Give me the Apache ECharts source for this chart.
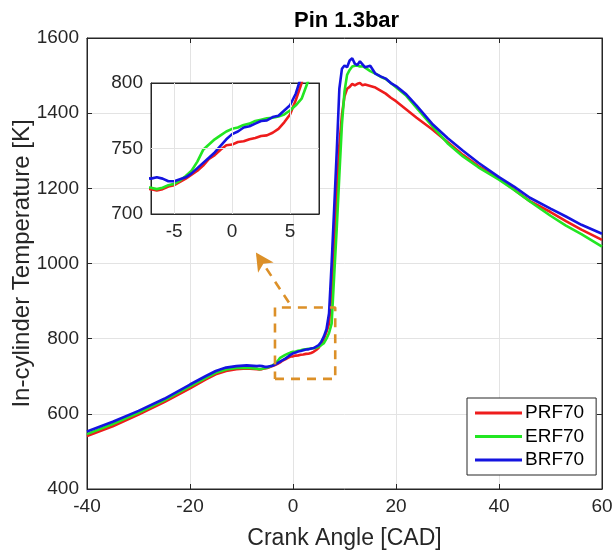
<!DOCTYPE html>
<html><head><meta charset="utf-8">
<script src="https://cdn.jsdelivr.net/npm/echarts@6/dist/echarts.min.js"></script>
<style>html,body{margin:0;padding:0;background:#fff}#c{width:615px;height:551px}</style>
</head><body><div id="c"></div>
<script>
const crankAngle = [-40,-35,-30,-25,-20,-17,-15,-13,-11,-9,-7,-6.5,-6,-5.5,-5,-4.5,-4,-3.5,-3,-2.5,-2,-1.5,-1,-0.5,0,0.5,1,1.5,2,2.5,3,3.5,4,4.5,5,5.5,6,6.5,7,7.5,8,8.5,9,9.5,10,10.5,11,11.5,12,12.5,13,13.5,14,15,16,17,18,19,20,22,24,27,30,33,36,40,43,46,50,53,56,60];
const tBRF70 = [553,579,608,640,678,700,714,723,727,729,727,728,727,725,725,726.5,728,731,735,739,743,747,752,757,761,763,766,767,769,771,771.5,774,775,779,783,792,806,825,868,1000,1148,1300,1465,1518,1527,1522,1540,1546,1532,1528,1538,1530,1522,1526,1505,1498,1492,1480,1472,1450,1420,1372,1334,1300,1268,1230,1204,1175,1146,1125,1103,1079];
const tERF70 = [546,573,603,636,673,695,709,718,722,723,720,719,720,722,723,725.5,729,733,740,749,753,757,760,763,765,766,768,769,771,772,773,773.5,774.5,776,779,783,788,800,815,840,969,1095,1235,1370,1458,1502,1515,1524,1526,1527,1524,1525,1521,1512,1505,1497,1491,1480,1469,1446,1414,1366,1320,1285,1256,1223,1195,1165,1127,1101,1078,1045];
const tPRF70 = [541,567,598,631,668,691,705,714,719,721,719,718,719,721,722,724.5,727,730,733,737,742,745,749,752.5,753,755,755.5,757,758,759.5,760,762,765,770,776,787,800,818,840,930,1058,1190,1315,1395,1445,1465,1470,1478,1474,1478,1480,1474,1476,1472,1468,1460,1452,1441,1432,1410,1388,1357,1323,1289,1259,1228,1196,1166,1137,1113,1090,1063];
const seriesNames = ['PRF70','ERF70','BRF70'];
const seriesColors = ['#ee1c1c','#22e622','#1414e0'];
const insetXTicks = [-5,0,5];
const insetYGrid = [750];
const zoomBoxX = [-3.5, 8.2];
const zoomBoxT = [693, 883];
const arrowFrom = [-0.8, 896];
const arrowTo = [-7.2, 1029];

const FONT = "'Liberation Sans', Arial, sans-serif";
const AX = '#262626';
const GRIDC = '#e3e3e3';
const ORANGE = '#dc9028';
const temps = [tPRF70, tERF70, tBRF70];
const pairs = t => crankAngle.map((x, i) => [x, t[i]]);
const plain = v => String(v);

const chart = echarts.init(document.getElementById('c'), null, {renderer: 'canvas'});

const lbl = {color: AX, fontSize: 19, fontFamily: FONT, formatter: plain};
const series = [];
temps.forEach((t, k) => {
  series.push({
    name: seriesNames[k], type: 'line', xAxisIndex: 0, yAxisIndex: 0,
    data: pairs(t), symbol: 'none', smooth: false, z: 3,
    lineStyle: {color: seriesColors[k], width: 2.6}, itemStyle: {color: seriesColors[k]},
    emphasis: {disabled: true}
  });
});
series.push({
  name: 'insetGrid', type: 'line', xAxisIndex: 1, yAxisIndex: 1, data: [[-7, 700]], symbol: 'none', z: 2, silent: true,
  lineStyle: {width: 0},
  markLine: {silent: true, symbol: 'none', label: {show: false}, animation: false,
    lineStyle: {color: GRIDC, type: 'solid', width: 1},
    data: insetXTicks.map(v => ({xAxis: v})).concat(insetYGrid.map(v => ({yAxis: v})))}
});
temps.forEach((t, k) => {
  series.push({
    name: seriesNames[k] + ' inset', type: 'line', xAxisIndex: 1, yAxisIndex: 1,
    data: pairs(t), symbol: 'none', z: 4, clip: true,
    lineStyle: {color: seriesColors[k], width: 2.6}, emphasis: {disabled: true}
  });
});
series.push({
  name: 'zoomBox', type: 'line', xAxisIndex: 0, yAxisIndex: 0, symbol: 'none', z: 5, silent: true,
  data: [[zoomBoxX[0], zoomBoxT[0]], [zoomBoxX[1], zoomBoxT[0]], [zoomBoxX[1], zoomBoxT[1]], [zoomBoxX[0], zoomBoxT[1]], [zoomBoxX[0], zoomBoxT[0]]],
  lineStyle: {color: ORANGE, width: 2.6, type: [9, 7]},
  markLine: {silent: true, symbol: ['none', 'arrow'], symbolSize: [14, 18], label: {show: false}, animation: false,
    lineStyle: {color: ORANGE, width: 2.6, type: [9, 7]},
    data: [[{coord: arrowFrom}, {coord: arrowTo}]]}
});

const option = {
  animation: false,
  backgroundColor: '#fff',
  textStyle: {fontFamily: FONT},
  title: {text: 'Pin 1.3bar', left: 289, top: 5,
    textStyle: {fontSize: 22, fontWeight: 'bold', color: '#000', fontFamily: FONT}},
  legend: {
    data: seriesNames.map(n => ({name: n, icon: 'rect'})), orient: 'vertical', left: 467, top: 398,
    backgroundColor: '#fff', borderColor: AX, borderWidth: 1, borderRadius: 0,
    padding: [5, 12, 5, 8], itemGap: 3.5, itemWidth: 47, itemHeight: 3,
    selectedMode: false,
    textStyle: {fontSize: 19, color: '#000', fontFamily: FONT, lineHeight: 20, padding: [0, 0, 0, -2]}
  },
  grid: [
    {left: 87, top: 38, width: 515, height: 451, show: true, borderColor: AX, borderWidth: 1, backgroundColor: 'transparent', z: 0, outerBoundsMode: 'none', containLabel: false},
    {left: 151, top: 83, width: 168, height: 131, show: true, borderColor: AX, borderWidth: 1, backgroundColor: '#fff', z: 1, outerBoundsMode: 'none', containLabel: false}
  ],
  xAxis: [
    {gridIndex: 0, type: 'value', min: -40, max: 60, interval: 20, position: 'bottom',
      axisLine: {show: true, onZero: false, lineStyle: {color: AX}},
      axisTick: {show: true, inside: true, length: 5, lineStyle: {color: AX}},
      axisLabel: Object.assign({margin: 8}, lbl),
      splitLine: {show: true, lineStyle: {color: GRIDC}},
      name: 'Crank Angle [CAD]', nameLocation: 'middle', nameGap: 38,
      nameTextStyle: {fontSize: 23, color: AX, fontFamily: FONT}},
    {gridIndex: 1, type: 'value', min: -7, max: 7.5, position: 'bottom', z: 2,
      axisLine: {show: true, onZero: false, lineStyle: {color: AX}},
      axisTick: {show: true, inside: true, length: 4, customValues: insetXTicks, lineStyle: {color: AX}},
      axisLabel: Object.assign({margin: 8, customValues: insetXTicks}, lbl),
      splitLine: {show: false}},
    {gridIndex: 0, type: 'value', min: -40, max: 60, interval: 20, position: 'top',
      axisLine: {show: true, onZero: false, lineStyle: {color: AX}},
      axisTick: {show: true, inside: true, length: 5, lineStyle: {color: AX}},
      axisLabel: {show: false}, splitLine: {show: false}},
    {gridIndex: 1, type: 'value', min: -7, max: 7.5, position: 'top', z: 2,
      axisLine: {show: true, onZero: false, lineStyle: {color: AX}},
      axisTick: {show: true, inside: true, length: 4, customValues: insetXTicks, lineStyle: {color: AX}},
      axisLabel: {show: false}, splitLine: {show: false}}
  ],
  yAxis: [
    {gridIndex: 0, type: 'value', min: 400, max: 1600, interval: 200, position: 'left',
      axisLine: {show: true, onZero: false, lineStyle: {color: AX}},
      axisTick: {show: true, inside: true, length: 5, lineStyle: {color: AX}},
      axisLabel: Object.assign({margin: 8}, lbl),
      splitLine: {show: true, lineStyle: {color: GRIDC}},
      name: 'In-cylinder Temperature [K]', nameLocation: 'middle', nameGap: 53, nameMoveOverlap: false,
      nameTextStyle: {fontSize: 24, color: AX, fontFamily: FONT}},
    {gridIndex: 1, type: 'value', min: 700, max: 800, interval: 50, position: 'left', z: 2,
      axisLine: {show: true, onZero: false, lineStyle: {color: AX}},
      axisTick: {show: true, inside: true, length: 4, lineStyle: {color: AX}},
      axisLabel: Object.assign({margin: 8}, lbl),
      splitLine: {show: false}},
    {gridIndex: 0, type: 'value', min: 400, max: 1600, interval: 200, position: 'right',
      axisLine: {show: true, onZero: false, lineStyle: {color: AX}},
      axisTick: {show: true, inside: true, length: 5, lineStyle: {color: AX}},
      axisLabel: {show: false}, splitLine: {show: false}},
    {gridIndex: 1, type: 'value', min: 700, max: 800, interval: 50, position: 'right', z: 2,
      axisLine: {show: true, onZero: false, lineStyle: {color: AX}},
      axisTick: {show: true, inside: true, length: 4, lineStyle: {color: AX}},
      axisLabel: {show: false}, splitLine: {show: false}}
  ],
  series: series
};
chart.setOption(option);
</script>
</body></html>
